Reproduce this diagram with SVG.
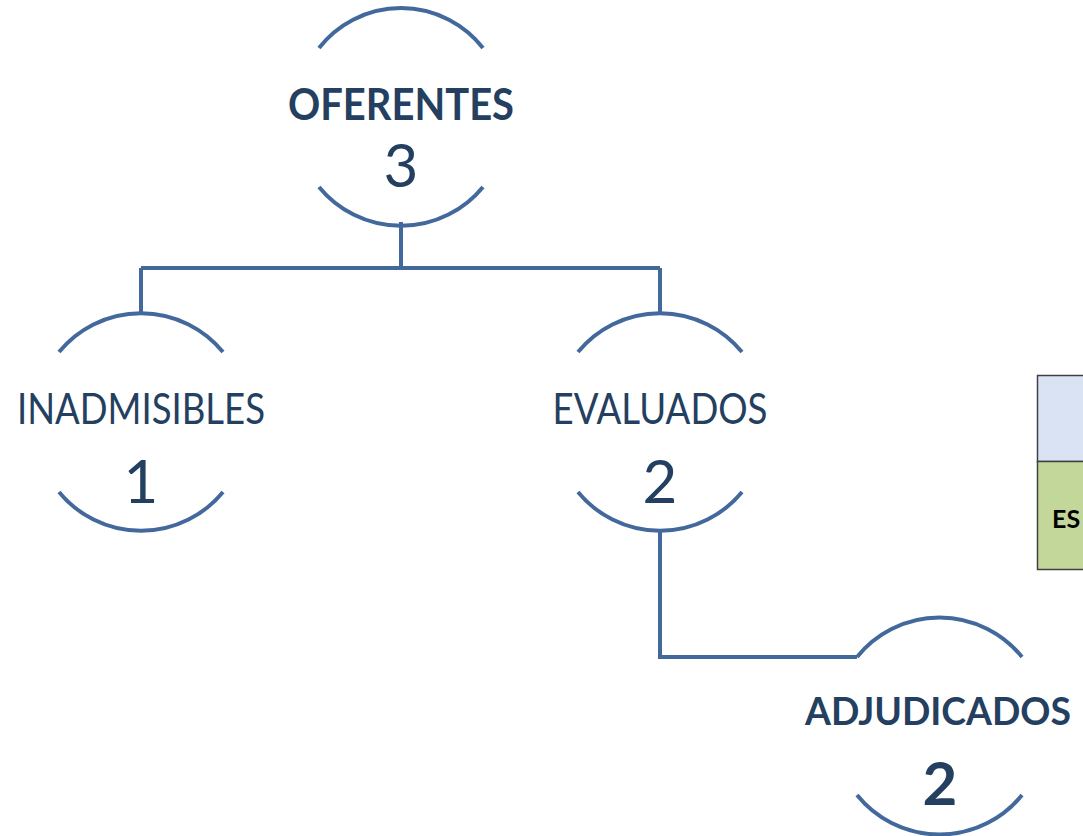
<svg xmlns="http://www.w3.org/2000/svg" width="1083" height="836" viewBox="0 0 1083 836">
<style>
.arc{fill:none;stroke:#43699c;stroke-width:4;stroke-linecap:butt}
.con{fill:none;stroke:#43699c;stroke-width:4}
.lbl{font-family:Lato,"Open Sans",sans-serif;fill:#243f60;text-anchor:middle}
.b{font-weight:bold}
</style>
<rect width="1083" height="836" fill="#ffffff"/>
<g id="connectors">
<path class="con" d="M401 222 V268 M141 268 H660 M141 268 V313 M660 268 V313"/>
<path class="con" d="M660 530 V657 H857"/>
</g>
<g id="oferentes">
<path class="arc" d="M319 48 A104 104 0 0 1 483 48"/>
<path class="arc" d="M319 187 A106 106 0 0 0 483 187"/>
<text class="lbl b" x="401" y="120" font-size="43" textLength="226" lengthAdjust="spacingAndGlyphs">OFERENTES</text>
<text class="lbl" x="401" y="187" font-size="60">3</text>
</g>
<g id="inadmisibles">
<path class="arc" d="M59 352 A106 106 0 0 1 223 352"/>
<path class="arc" d="M59 492 A106 106 0 0 0 223 492"/>
<text class="lbl" x="141" y="424" font-size="43" textLength="248" lengthAdjust="spacingAndGlyphs">INADMISIBLES</text>
<text class="lbl" x="141" y="503" font-size="60">1</text>
</g>
<g id="evaluados">
<path class="arc" d="M578 352 A106 106 0 0 1 742 352"/>
<path class="arc" d="M578 492 A106 106 0 0 0 742 492"/>
<text class="lbl" x="660" y="424" font-size="43" textLength="215" lengthAdjust="spacingAndGlyphs">EVALUADOS</text>
<text class="lbl" x="660" y="503" font-size="60">2</text>
</g>
<g id="adjudicados">
<path class="arc" d="M857 657 A106 106 0 0 1 1022 657"/>
<path class="arc" d="M857 795 A106 106 0 0 0 1022 795"/>
<text class="lbl b" x="938" y="725" font-size="38" textLength="266" lengthAdjust="spacingAndGlyphs">ADJUDICADOS</text>
<text class="lbl b" x="940" y="805" font-size="60">2</text>
</g>
<g id="table">
<rect x="1037.5" y="375.5" width="60" height="86" fill="#dae3f3" stroke="#404040" stroke-width="1.5"/>
<rect x="1037.5" y="461.5" width="60" height="108" fill="#c4d79b" stroke="#404040" stroke-width="1.5"/>
<text x="1052" y="528" font-family="Lato,'Open Sans',sans-serif" font-weight="bold" font-size="25" fill="#000000">ES</text>
</g>
</svg>
